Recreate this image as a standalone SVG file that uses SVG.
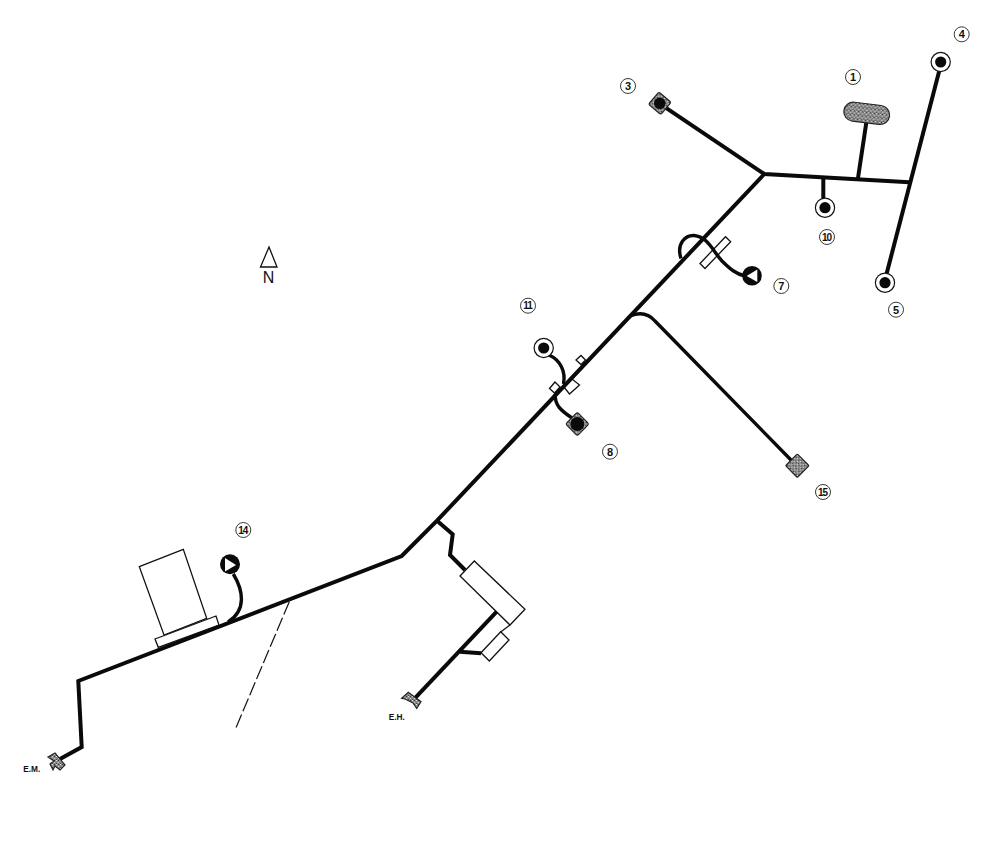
<svg xmlns="http://www.w3.org/2000/svg" width="1000" height="860" viewBox="0 0 1000 860">
<style>
.w{fill:none;stroke:#0a0a0a;stroke-width:4;stroke-linejoin:miter}
.m{stroke-width:3.4}
.b{fill:#fff;stroke:#111;stroke-width:1.3}
.k{fill:#0a0a0a}
.r{fill:#fff;stroke:#111;stroke-width:1.2}
.s{fill:url(#st);stroke:#222;stroke-width:1.2}
.lc{fill:#fff;stroke:#222;stroke-width:.9}
.t{font-family:"Liberation Sans",Arial,sans-serif;font-size:11px;font-weight:bold;text-anchor:middle;fill:#111}
.t2{font-size:10px;letter-spacing:-1px}
.e{font-family:"Liberation Sans",Arial,sans-serif;font-size:8.3px;font-weight:bold;text-anchor:middle;fill:#111}
</style>
<defs>
<pattern id="st" width="4" height="4" patternUnits="userSpaceOnUse">
<rect width="4" height="4" fill="#8a8a8a"/><rect x="0" y="0" width="1" height="1" fill="#e4e4e4"/><rect x="2" y="2" width="1" height="1" fill="#d0d0d0"/><rect x="2" y="0" width="1" height="1" fill="#333"/><rect x="0" y="3" width="1" height="1" fill="#444"/>
</pattern>
</defs>

<g id="rects">
<path class="b" d="M700 263.5L705 268.5L730.7 241.7L725.5 236.7Z"/>
<path class="b" d="M460 576L474.3 561L525 609.3L510 625Z"/>
<path class="b" d="M510 625L500.7 632"/>
<path class="b" d="M481 652.7L500.7 631.7L509 640L489.3 661Z"/>
<path class="b" d="M139.3 566.7L183.3 549.3L206.7 618.3L164 635Z"/>
<path class="b" d="M155 639L216 616L219 625L158.3 647.3Z"/>
<path class="b" d="M576 360L581 355.5L585.5 360L581 364.5Z"/>
<path class="b" d="M563.5 386.5L571.5 378.5L579.5 385L569.5 394Z"/>
<path class="b" d="M549.5 388.5L555 382L560 387L554.5 393Z"/>
</g>

<g id="connectors">
<path class="w" d="M659.3 103.3L764.3 174L909.3 182.3"/>
<path class="w" d="M866.7 120L857.7 180"/>
<path class="w" d="M823.3 178V198"/>
<path class="w" d="M940 68L885.5 278"/>
<path class="w" d="M764.3 174L437 520.7L401.7 556L78.3 681L81.7 747L60 759"/>
<path class="w m" d="M681 258.5C676 243 686 235 694 235.5C708 237 712 250 722 261C730 269 736 274 745 276"/>
<path class="w m" d="M630 316C640 312 648 313 655 321L792 461"/>
<path class="w m" d="M549 355C560 360 566 371 563.5 384"/>
<path class="w m" d="M555 394C555 405 560 410 572 418"/>
<path class="w" d="M437 520.7L452.7 534.3L450 555L465 570"/>
<path class="w" d="M496.7 611.7L415 698"/>
<path class="w" d="M460 651.7L481 653.3"/>
<path class="w m" d="M233.3 574C243 590 247 610 228 622"/>
<path fill="none" stroke="#111" stroke-width="1.2" stroke-dasharray="14 3.5" d="M289.3 601.7L235 730"/>
</g>

<g id="node-1"><rect class="s" x="843.7" y="103.8" width="46" height="19" rx="9.5" transform="rotate(7 866.7 113.3)"/><circle class="lc" cx="853" cy="77" r="7.5"/><text class="t" x="853" y="81">1</text></g>
<g id="node-3"><rect class="s" x="651.8" y="95.3" width="16" height="16" rx="2" transform="rotate(40 659.8 103.3)"/><circle class="k" cx="659.8" cy="103.3" r="5.8"/><circle class="lc" cx="628" cy="86" r="7.5"/><text class="t" x="628" y="90">3</text></g>
<g id="node-4"><circle class="r" cx="940.7" cy="62" r="9.6"/><circle class="k" cx="940.7" cy="62" r="5.6"/><circle class="lc" cx="961.7" cy="34.3" r="7.5"/><text class="t" x="961.7" y="38.2">4</text></g>
<g id="node-5"><circle class="r" cx="885" cy="282.7" r="9.6"/><circle class="k" cx="885" cy="282.7" r="5.6"/><circle class="lc" cx="896" cy="309.7" r="7.5"/><text class="t" x="896" y="313.7">5</text></g>
<g id="node-10"><circle class="r" cx="825" cy="207.7" r="9.6"/><circle class="k" cx="825" cy="207.7" r="5.6"/><circle class="lc" cx="827" cy="237" r="7.5"/><text class="t t2" x="826.5" y="240.6">10</text></g>
<g id="node-7"><circle class="k" cx="752" cy="275.7" r="9.8"/><path fill="#fff" d="M746.7 276L757.3 269.5V282Z"/><circle class="lc" cx="781.3" cy="286" r="7.5"/><text class="t" x="781.3" y="290">7</text></g>
<g id="node-11"><circle class="r" cx="543.7" cy="348" r="9.6"/><circle class="k" cx="543.7" cy="348" r="5.6"/><circle class="lc" cx="528" cy="305.7" r="7.5"/><text class="t t2" x="527.5" y="309.3">11</text></g>
<g id="node-8"><rect class="s" x="569" y="415.7" width="16.6" height="16.6" rx="2" transform="rotate(45 577.3 424)"/><circle class="k" cx="577.3" cy="424" r="7"/><circle class="lc" cx="610" cy="451.7" r="7.5"/><text class="t" x="610" y="455.7">8</text></g>
<g id="node-15"><rect class="s" x="789" y="457.4" width="16.6" height="16.6" rx="1" transform="rotate(45 797.3 465.7)"/><circle class="lc" cx="823" cy="492" r="7.5"/><text class="t t2" x="822.5" y="495.6">15</text></g>
<g id="node-14"><circle class="k" cx="230" cy="564.3" r="10"/><path fill="#fff" d="M225 558L236 565L225 571.5Z"/><circle class="lc" cx="243.3" cy="530" r="7.5"/><text class="t t2" x="242.8" y="533.6">14</text></g>
<g id="node-eh"><path class="s" d="M401.7 698.3L408.3 692.3L421 701.7L416.7 708.5L413 703L405 699Z"/><text class="e" x="396.7" y="719.5">E.H.</text></g>
<g id="node-em"><path class="s" d="M48 757L55 753L65 765L60 770L55 766L53 770L50 764L54 761Z"/><text class="e" x="31.7" y="772.3">E.M.</text></g>
<g id="north"><path fill="#fff" stroke="#111" stroke-width="1.3" d="M269 247L260.5 267H277Z"/><text x="268.5" y="283" font-family="'Liberation Sans',Arial,sans-serif" font-size="16" text-anchor="middle" fill="#111">N</text></g>
</svg>
